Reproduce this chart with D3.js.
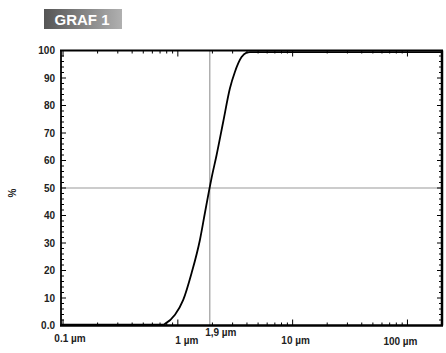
<!DOCTYPE html>
<html><head><meta charset="utf-8">
<script src="https://cdn.jsdelivr.net/npm/d3@7"></script>
<style>body{margin:0;background:#fff}svg{display:block}</style>
</head><body>
<script>
const title = "GRAF 1";
const sizes = [0.096, 0.3, 0.6, 0.746, 0.772, 0.944, 1.114, 1.318, 1.557, 1.721, 1.876, 1.968, 2.176, 2.485, 2.84, 3.14, 3.59, 3.97, 4.24, 10, 50, 200];
const cumulative = [0.3, 0.3, 0.3, 0.3, 0.6, 3.9, 9.3, 19.1, 31.1, 40.9, 49.3, 53.7, 62.0, 74.1, 86.2, 92.2, 97.6, 99.2, 99.4, 99.4, 99.4, 99.4];
const yTicks = [0, 10, 20, 30, 40, 50, 60, 70, 80, 90, 100];
const yTickLabels = ["0.0", "10", "20", "30", "40", "50", "60", "70", "80", "90", "100"];
const xMajor = [0.1, 1, 10, 100];
const xLabels = ["0.1 µm", "1 µm", "10 µm", "100 µm"];
const markerValue = 1.9;
const markerLabel = "1,9 µm";
const refPercent = 50;

const W = 446, H = 353;
const L = 61, R = 442, T = 50.5, B = 325.5;
const svg = d3.select("body").append("svg").attr("width", W).attr("height", H);
const x = d3.scaleLog().domain([0.096, 200]).range([L, R]);
const y = d3.scaleLinear().domain([0, 100]).range([B, T]);
const font = "'Liberation Sans', Arial, sans-serif";

// title box
const grad = svg.append("defs").append("linearGradient").attr("id", "tg");
grad.append("stop").attr("offset", "0%").attr("stop-color", "#555");
grad.append("stop").attr("offset", "100%").attr("stop-color", "#b0b0b0");
svg.append("rect").attr("x", 44).attr("y", 9).attr("width", 78).attr("height", 20).attr("fill", "url(#tg)");
svg.append("text").attr("x", 82).attr("y", 25).attr("text-anchor", "middle")
  .attr("fill", "#fff").attr("font-family", font).attr("font-weight", "bold").attr("font-size", 15).text(title);

// reference lines
svg.append("line").attr("x1", L).attr("x2", R).attr("y1", y(refPercent)).attr("y2", y(refPercent))
  .attr("stroke", "#999").attr("stroke-width", 1);
svg.append("line").attr("x1", x(markerValue)).attr("x2", x(markerValue)).attr("y1", T).attr("y2", B)
  .attr("stroke", "#888").attr("stroke-width", 1);

// minor ticks
const g = svg.append("g").attr("stroke", "#000");
const yMinor = d3.range(0, 101, 2);
yMinor.forEach(v => {
  const len = v % 10 === 0 ? 5 : 3;
  g.append("line").attr("x1", L).attr("x2", L + len).attr("y1", y(v)).attr("y2", y(v)).attr("stroke-width", 1);
  g.append("line").attr("x1", R).attr("x2", R - len).attr("y1", y(v)).attr("y2", y(v)).attr("stroke-width", 1);
});
const xMinorVals = [];
[0.1, 1, 10, 100].forEach(d => { for (let k = 1; k <= 9; k++) { const v = d * k; if (v >= 0.096 && v <= 200) xMinorVals.push(v); } });
xMinorVals.push(200);
xMinorVals.forEach(v => {
  const major = xMajor.includes(+v.toPrecision(3));
  const len = major ? 6 : 3;
  g.append("line").attr("x1", x(v)).attr("x2", x(v)).attr("y1", B).attr("y2", B - len).attr("stroke-width", 1);
  g.append("line").attr("x1", x(v)).attr("x2", x(v)).attr("y1", T).attr("y2", T + len).attr("stroke-width", 1);
});

// frame
svg.append("line").attr("x1", L - 1).attr("x2", R + 1).attr("y1", T).attr("y2", T).attr("stroke", "#000").attr("stroke-width", 2);
svg.append("line").attr("x1", L - 1).attr("x2", R + 1).attr("y1", B).attr("y2", B).attr("stroke", "#000").attr("stroke-width", 2.5);
svg.append("line").attr("x1", L).attr("x2", L).attr("y1", T).attr("y2", B).attr("stroke", "#000").attr("stroke-width", 1.8);
svg.append("line").attr("x1", R).attr("x2", R).attr("y1", T).attr("y2", B).attr("stroke", "#000").attr("stroke-width", 2.5);

// curve
const line = d3.line().x((d, i) => x(sizes[i])).y(d => y(d)).curve(d3.curveMonotoneX);
svg.append("path").attr("d", line(cumulative)).attr("fill", "none").attr("stroke", "#000").attr("stroke-width", 1.8);

// y labels
yTicks.forEach((v, i) => {
  svg.append("text").attr("x", 55).attr("y", y(v) + 3.5).attr("text-anchor", "end")
    .attr("font-family", font).attr("font-weight", "bold").attr("font-size", 10).attr("fill", "#222").text(yTickLabels[i]);
});
svg.append("text").attr("transform", `translate(16,${y(50) + 5}) rotate(-90)`).attr("text-anchor", "middle")
  .attr("font-family", font).attr("font-weight", "bold").attr("font-size", 10).attr("fill", "#222").text("%");

// x labels
const xLabelPos = [[0.1, 7, 342], [1, 9, 344], [10, 3, 344], [100, -7, 345]];
xMajor.forEach((v, i) => {
  svg.append("text").attr("x", x(v) + xLabelPos[i][1]).attr("y", xLabelPos[i][2]).attr("text-anchor", "middle")
    .attr("font-family", font).attr("font-weight", "bold").attr("font-size", 10).attr("fill", "#222").text(xLabels[i]);
});
svg.append("text").attr("x", x(markerValue) + 11).attr("y", 336).attr("text-anchor", "middle")
  .attr("font-family", font).attr("font-weight", "bold").attr("font-size", 10).attr("fill", "#222").text(markerLabel);
</script>
</body></html>
